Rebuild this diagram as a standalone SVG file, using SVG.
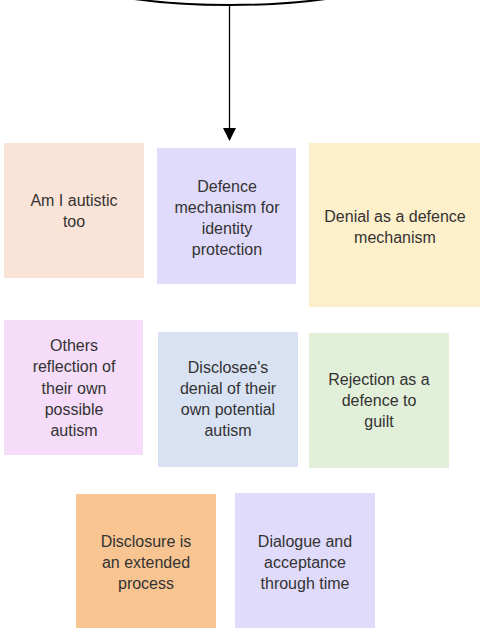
<svg xmlns="http://www.w3.org/2000/svg" width="480" height="628" viewBox="0 0 480 628">
  <style>
    .box { stroke: none; }
    .lbl { font-family: "Liberation Sans", Arial, sans-serif; font-size: 16px; fill: #333333; text-anchor: middle; }
    .edge { stroke: #000; stroke-width: 1.3; fill: none; }
  </style>

  <!-- source ellipse, mostly above the canvas -->
  <g id="source">
    <ellipse cx="230" cy="-40" rx="190" ry="45" fill="#fff" stroke="#000" stroke-width="2"/>
  </g>

  <g id="connectors">
    <line class="edge" x1="229.5" y1="6" x2="229.5" y2="129"/>
    <polygon points="223,128 236,128 229.5,141" fill="#000"/>
  </g>

  <g id="n1">
    <rect class="box" x="4" y="143" width="140" height="135" fill="#FAE4D7"/>
    <text class="lbl" x="74" y="206">Am I autistic</text>
    <text class="lbl" x="74" y="227">too</text>
  </g>

  <g id="n2">
    <rect class="box" x="157" y="148" width="139" height="136" fill="#E0DBFA"/>
    <text class="lbl" x="227" y="192">Defence</text>
    <text class="lbl" x="227" y="213">mechanism for</text>
    <text class="lbl" x="227" y="234">identity</text>
    <text class="lbl" x="227" y="255">protection</text>
  </g>

  <g id="n3">
    <rect class="box" x="309" y="143" width="171" height="164" fill="#FFF0CC"/>
    <text class="lbl" x="395" y="222">Denial as a defence</text>
    <text class="lbl" x="395" y="243">mechanism</text>
  </g>

  <g id="n4">
    <rect class="box" x="4" y="320" width="139" height="135" fill="#F5DCF8"/>
    <text class="lbl" x="74" y="351">Others</text>
    <text class="lbl" x="74" y="372">reflection of</text>
    <text class="lbl" x="74" y="394">their own</text>
    <text class="lbl" x="74" y="415">possible</text>
    <text class="lbl" x="74" y="436">autism</text>
  </g>

  <g id="n5">
    <rect class="box" x="158" y="332" width="140" height="135" fill="#D9E2F3"/>
    <text class="lbl" x="228" y="373">Disclosee's</text>
    <text class="lbl" x="228" y="394">denial of their</text>
    <text class="lbl" x="228" y="415">own potential</text>
    <text class="lbl" x="228" y="436">autism</text>
  </g>

  <g id="n6">
    <rect class="box" x="309" y="333" width="140" height="135" fill="#E2EFD9"/>
    <text class="lbl" x="379" y="385">Rejection as a</text>
    <text class="lbl" x="379" y="406">defence to</text>
    <text class="lbl" x="379" y="427">guilt</text>
  </g>

  <g id="n7">
    <rect class="box" x="76" y="494" width="140" height="134" fill="#F8C592"/>
    <text class="lbl" x="146" y="547">Disclosure is</text>
    <text class="lbl" x="146" y="568">an extended</text>
    <text class="lbl" x="146" y="589">process</text>
  </g>

  <g id="n8">
    <rect class="box" x="235" y="493" width="140" height="135" fill="#E0DBFA"/>
    <text class="lbl" x="305" y="547">Dialogue and</text>
    <text class="lbl" x="305" y="568">acceptance</text>
    <text class="lbl" x="305" y="589">through time</text>
  </g>
</svg>
